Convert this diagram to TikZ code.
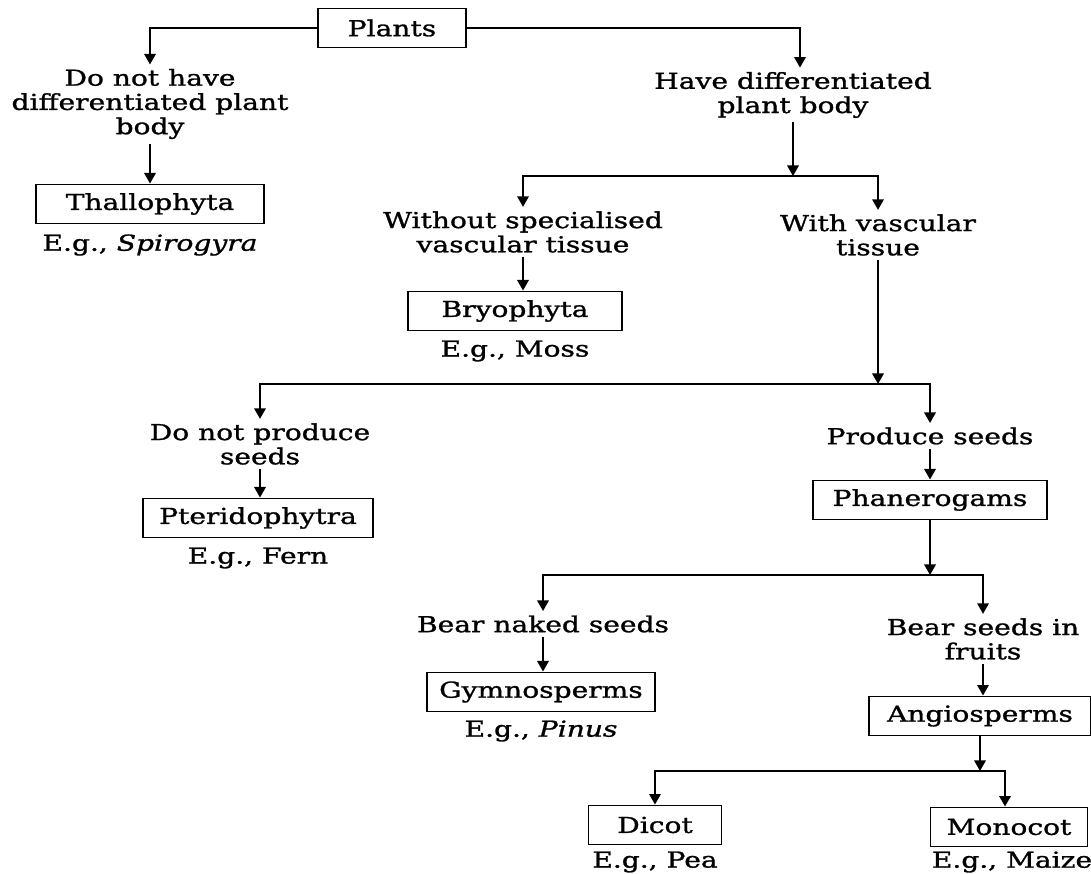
\documentclass[tikz,border=0pt]{standalone}
\usepackage{fontspec}
\setmainfont{DejaVu Serif}[FakeStretch=1.28, FakeBold=1.2]
\usetikzlibrary{arrows.meta}

\begin{document}
\begin{tikzpicture}[x=0.02cm, y=-0.02cm,
      >={Triangle[length=6pt,width=6.5pt]}, line width=1.1pt,
      font=\fontsize{12.5}{13.8}\selectfont,
      box/.style={draw, line width=1.1pt, minimum height=0.78cm, inner sep=2pt},
      lbl/.style={align=center, inner sep=2pt},
      eg/.style={inner sep=1pt}]
    \useasboundingbox (0,0) rectangle (1091,874);
    % top level
    \node[box, minimum width=2.96cm] (plants) at (392,28) {Plants};
    \node[lbl] (nohave) at (150,104) {Do not have\\differentiated plant\\body};
    \node[box, minimum width=4.56cm] (thallo) at (150,204) {Thallophyta};
    \node[eg] (thalloeg) at (150,245) {E.g., \textit{Spirogyra}};
    \node[lbl] (have) at (793,95) {Have differentiated\\plant body};
    % vascular or not
    \node[lbl] (without) at (523,232) {Without specialised\\vascular tissue};
    \node[lbl] (withvasc) at (878,235) {With vascular\\tissue};
    \node[box, minimum width=4.28cm] (bryo) at (515,311) {Bryophyta};
    \node[eg] (bryoeg) at (515,351) {E.g., Moss};
    % seeds or not
    \node[lbl] (noseed) at (260,444) {Do not produce\\seeds};
    \node[box, minimum width=4.6cm] (pterido) at (258,518) {Pteridophytra};
    \node[eg] (pteridoeg) at (258,558) {E.g., Fern};
    \node[lbl] (seeds) at (930,436) {Produce seeds};
    \node[box, minimum width=4.68cm] (phanero) at (930,500) {Phanerogams};
    % naked or in fruits
    \node[lbl] (naked) at (543,624) {Bear naked seeds};
    \node[lbl] (fruits) at (983,639) {Bear seeds in\\fruits};
    \node[box, minimum width=4.56cm] (gymno) at (541,692) {Gymnosperms};
    \node[eg] (gymnoeg) at (541,731) {E.g., \textit{Pinus}};
    \node[box, minimum width=4.44cm] (angio) at (980,716) {Angiosperms};
    % dicot and monocot
    \node[box, minimum width=2.66cm] (dicot) at (655,825) {Dicot};
    \node[eg] (dicoteg) at (655,862) {E.g., Pea};
    \node[box, minimum width=3.14cm] (monocot) at (1009,827) {Monocot};
    \node[eg] (monoeg) at (1012,862) {E.g., Maize};
    % junctions
    \coordinate (j1) at (793,176);
    \coordinate (j2) at (878,384);
    \coordinate (j3) at (930,575);
    \coordinate (j4) at (980,771);
    % connectors
    \draw[->] (plants.west) -| (nohave.north);
    \draw[->] (plants.east) -| ([xshift=0.14cm]have.north);
    \draw[->] (nohave) -- (thallo);
    \draw[->] (have) -- (j1);
    \draw[->] (j1) -| (without.north);
    \draw[->] (j1) -| (withvasc.north);
    \draw[->] (without.south) -- (without.south |- bryo.north);
    \draw[->] (withvasc) -- (j2);
    \draw[->] (j2) -| (noseed.north);
    \draw[->] (j2) -| (seeds.north);
    \draw[->] (noseed.south) -- (noseed.south |- pterido.north);
    \draw[->] (seeds) -- (phanero);
    \draw[->] (phanero) -- (j3);
    \draw[->] (j3) -| (naked.north);
    \draw[->] (j3) -| (fruits.north);
    \draw[->] (naked.south) -- (naked.south |- gymno.north);
    \draw[->] (fruits.south) -- (fruits.south |- angio.north);
    \draw[->] (angio) -- (j4);
    \draw[->] (j4) -| (dicot.north);
    \draw[->] (j4) -| ([xshift=-0.08cm]monocot.north);
  \end{tikzpicture}
\end{document}
